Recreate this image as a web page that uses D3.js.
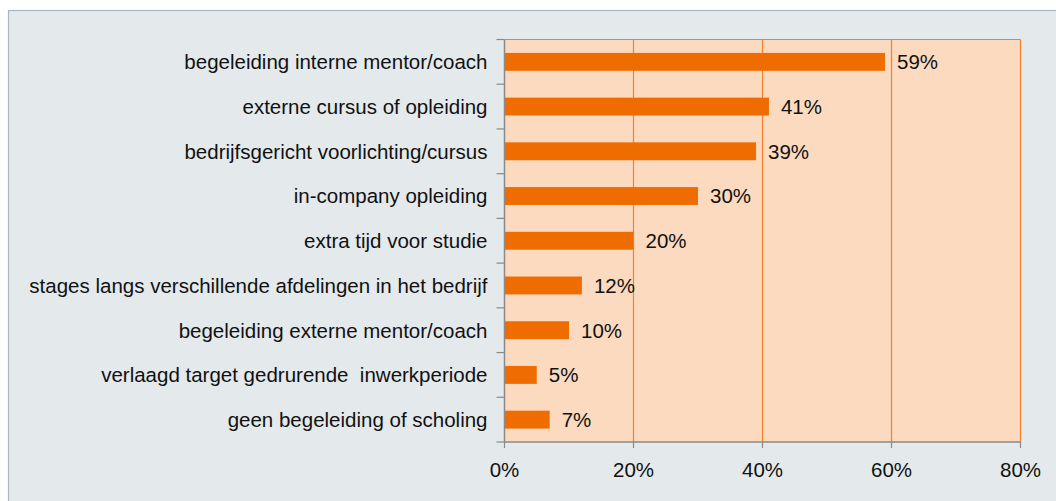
<!DOCTYPE html>
<html><head><meta charset="utf-8">
<script src="https://cdn.jsdelivr.net/npm/d3@7"></script>
<style>body{margin:0;background:#fff}svg{display:block}text{font-family:"Liberation Sans",Arial,Helvetica,sans-serif;fill:#111}</style>
</head><body>
<script>
const categories = [
  "begeleiding interne mentor/coach",
  "externe cursus of opleiding",
  "bedrijfsgericht voorlichting/cursus",
  "in-company opleiding",
  "extra tijd voor studie",
  "stages langs verschillende afdelingen in het bedrijf",
  "begeleiding externe mentor/coach",
  "verlaagd target gedrurende  inwerkperiode",
  "geen begeleiding of scholing"
];
const values = [59, 41, 39, 30, 20, 12, 10, 5, 7];
const xTicks = [0, 20, 40, 60, 80];

(function () {
const W = 1056, H = 501, FS = 20.5;
const svg = d3.select("body").append("svg").attr("width", W).attr("height", H);
svg.append("rect").attr("x", 8.5).attr("y", 10.5).attr("width", W + 10).attr("height", H + 10)
  .attr("fill", "#e4e9ec").attr("stroke", "#a9b7c2").attr("stroke-width", 1.2);

const pL = 504.5, pR = 1020.5, pT = 39.5, pB = 442;
const x = d3.scaleLinear().domain([0, 80]).range([pL, pR]);
const y = d3.scaleBand().domain(categories).range([pT, pB]).paddingInner(0.6).paddingOuter(0.3);

svg.append("rect").attr("x", pL).attr("y", pT).attr("width", pR - pL).attr("height", pB - pT)
  .attr("fill", "#fbdabf");

svg.append("g").selectAll("line").data(xTicks.slice(1)).join("line")
  .attr("x1", d => x(d)).attr("x2", d => x(d)).attr("y1", pT).attr("y2", pB)
  .attr("stroke", "#f7802a").attr("stroke-width", 1.2);
svg.append("line").attr("x1", pL).attr("x2", pR).attr("y1", pT).attr("y2", pT)
  .attr("stroke", "#f7802a").attr("stroke-width", 1.2);

svg.append("g").selectAll("rect").data(values).join("rect")
  .attr("x", x(0)).attr("y", (d, i) => y(categories[i]))
  .attr("width", d => x(d) - x(0)).attr("height", y.bandwidth())
  .attr("fill", "#ef6c00");

svg.append("g").selectAll("text").data(values).join("text")
  .attr("x", d => x(d) + 12).attr("y", (d, i) => y(categories[i]) + y.bandwidth() / 2)
  .attr("dy", "0.36em").attr("font-size", FS).text(d => d + "%");

// y axis
const yAxisG = svg.append("g").attr("transform", `translate(${pL},0)`);
yAxisG.append("line").attr("x1", 0).attr("x2", 0).attr("y1", pT).attr("y2", pB).attr("stroke", "#8a8a8a").attr("stroke-width", 1.5);
const step = (pB - pT) / categories.length;
yAxisG.selectAll("line.t").data(d3.range(categories.length + 1)).join("line").attr("class", "t")
  .attr("x1", -8).attr("x2", 0).attr("y1", i => pT + i * step).attr("y2", i => pT + i * step)
  .attr("stroke", "#8a8a8a").attr("stroke-width", 1.2);
yAxisG.selectAll("text").data(categories).join("text")
  .attr("x", -17).attr("y", d => y(d) + y.bandwidth() / 2).attr("dy", "0.36em")
  .attr("text-anchor", "end").attr("font-size", FS).attr("xml:space", "preserve").text(d => d);

// x axis
const xAxisG = svg.append("g").attr("transform", `translate(0,${pB})`);
xAxisG.append("line").attr("x1", pL).attr("x2", pR).attr("stroke", "#8a8a8a").attr("stroke-width", 1.5);
xAxisG.selectAll("line.t").data(xTicks).join("line").attr("class", "t")
  .attr("x1", d => x(d)).attr("x2", d => x(d)).attr("y1", 0).attr("y2", 6)
  .attr("stroke", "#8a8a8a").attr("stroke-width", 1.2);
xAxisG.selectAll("text").data(xTicks).join("text")
  .attr("x", d => x(d)).attr("y", 28).attr("dy", "0.36em").attr("text-anchor", "middle")
  .attr("font-size", FS).text(d => d + "%");
})();
</script>
</body></html>
